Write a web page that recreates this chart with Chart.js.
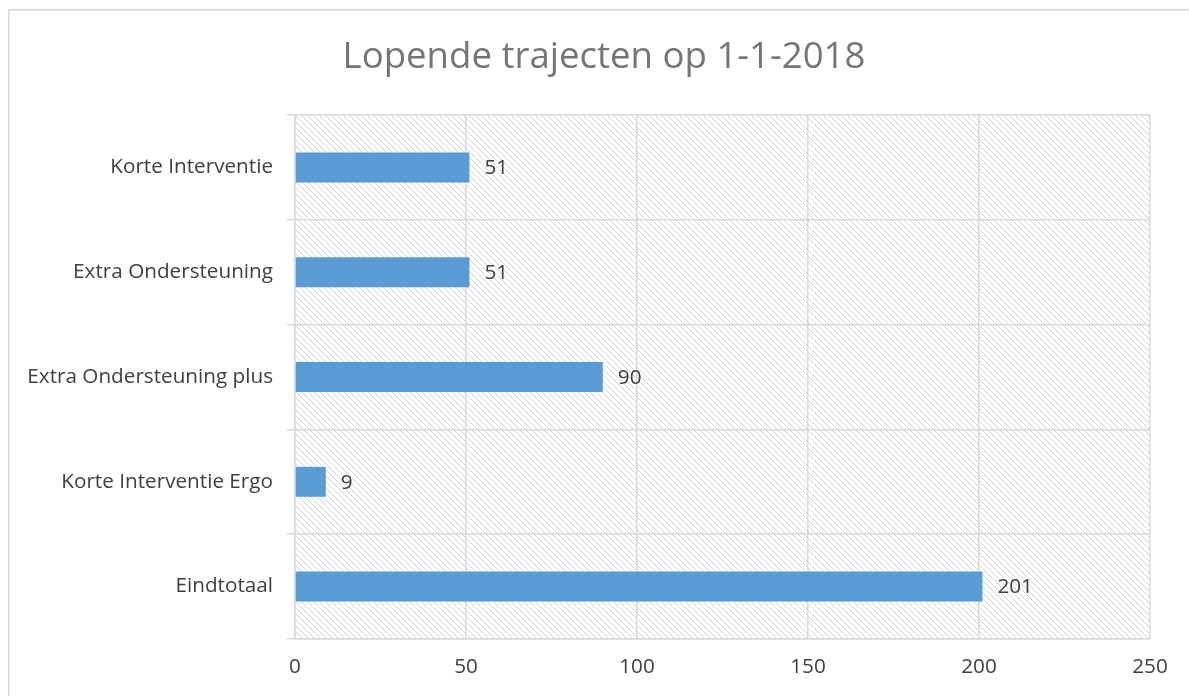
<!DOCTYPE html>
<html>
<head>
<meta charset="utf-8">
<script src="https://cdn.jsdelivr.net/npm/chart.js@4"></script>
<style>
html,body{margin:0;padding:0;background:#fff;}
#wrap{width:1189px;height:696px;position:relative;}
</style>
</head>
<body>
<div id="wrap"><canvas id="c" width="1189" height="696"></canvas></div>
<script>
const titleText = "Lopende trajecten op 1-1-2018";
const categories = ["Korte Interventie", "Extra Ondersteuning", "Extra Ondersteuning plus", "Korte Interventie Ergo", "Eindtotaal"];
const values = [51, 51, 90, 9, 201];
const xTicks = [0, 50, 100, 150, 200, 250];

const FONT = "'Open Sans', Lato, sans-serif";
const GRID = "#d9d9d9";
const TEXT = "#404040";

function makePattern(ctx){
  const p = document.createElement('canvas');
  p.width = 6; p.height = 6;
  const g = p.getContext('2d');
  g.fillStyle = '#ffffff'; g.fillRect(0,0,6,6);
  g.strokeStyle = '#d3d3d3'; g.lineWidth = 1;
  g.beginPath();
  g.moveTo(-1,-1); g.lineTo(7,7);
  g.moveTo(-1,5); g.lineTo(1,7);
  g.moveTo(5,-1); g.lineTo(7,1);
  g.stroke();
  return ctx.createPattern(p,'repeat');
}

const bgPlugin = {
  id:'bg',
  beforeDraw(chart){
    const {ctx, chartArea:a} = chart;
    ctx.save();
    ctx.fillStyle = makePattern(ctx);
    ctx.fillRect(a.left, a.top, a.right-a.left, a.bottom-a.top);
    ctx.strokeStyle = GRID; ctx.lineWidth = 1.5;
    ctx.beginPath();
    ctx.moveTo(8.75, 700); ctx.lineTo(8.75, 9.75); ctx.lineTo(1200, 9.75);
    ctx.stroke();
    ctx.fillStyle = '#757575';
    ctx.font = "400 36.6px " + FONT;
    ctx.textAlign = 'center'; ctx.textBaseline = 'middle';
    ctx.fillText(titleText, 604, 58);
    ctx.restore();
  }
};

const labelPlugin = {
  id:'vals',
  afterDatasetsDraw(chart){
    const {ctx} = chart;
    const meta = chart.getDatasetMeta(0);
    ctx.save();
    ctx.fillStyle = TEXT;
    ctx.font = "20.7px " + FONT;
    ctx.textAlign = 'left'; ctx.textBaseline = 'middle';
    meta.data.forEach((el,i)=>{
      ctx.fillText(String(values[i]), el.x + 15, el.y + 1);
    });
    ctx.restore();
  }
};

new Chart(document.getElementById('c'), {
  type:'bar',
  data:{
    labels: categories,
    datasets:[{
      data: values,
      backgroundColor:'#5b9bd5',
      borderWidth:0,
      barPercentage:0.286,
      categoryPercentage:1
    }]
  },
  options:{
    indexAxis:'y',
    responsive:false,
    animation:false,
    devicePixelRatio:1,
    layout:{padding:{top:115,left:0,right:39,bottom:0}},
    plugins:{legend:{display:false},title:{display:false},tooltip:{enabled:false}},
    scales:{
      x:{
        min:0,max:250,
        afterBuildTicks(s){ s.ticks = xTicks.map(v=>({value:v})); },
        afterFit(s){ s.height = 57; },
        grid:{color:GRID,lineWidth:1.5,drawTicks:false},
        border:{color:GRID,width:1.5},
        ticks:{color:TEXT,font:{family:FONT,size:20.7},padding:16}
      },
      y:{
        afterFit(s){ s.width = 295; },
        offset:true,
        grid:{color:GRID,lineWidth:1.5,offset:true,tickLength:8},
        border:{color:GRID,width:1.5},
        ticks:{color:TEXT,font:{family:FONT,size:20.7},padding:14}
      }
    }
  },
  plugins:[bgPlugin,labelPlugin]
});
</script>
</body>
</html>
